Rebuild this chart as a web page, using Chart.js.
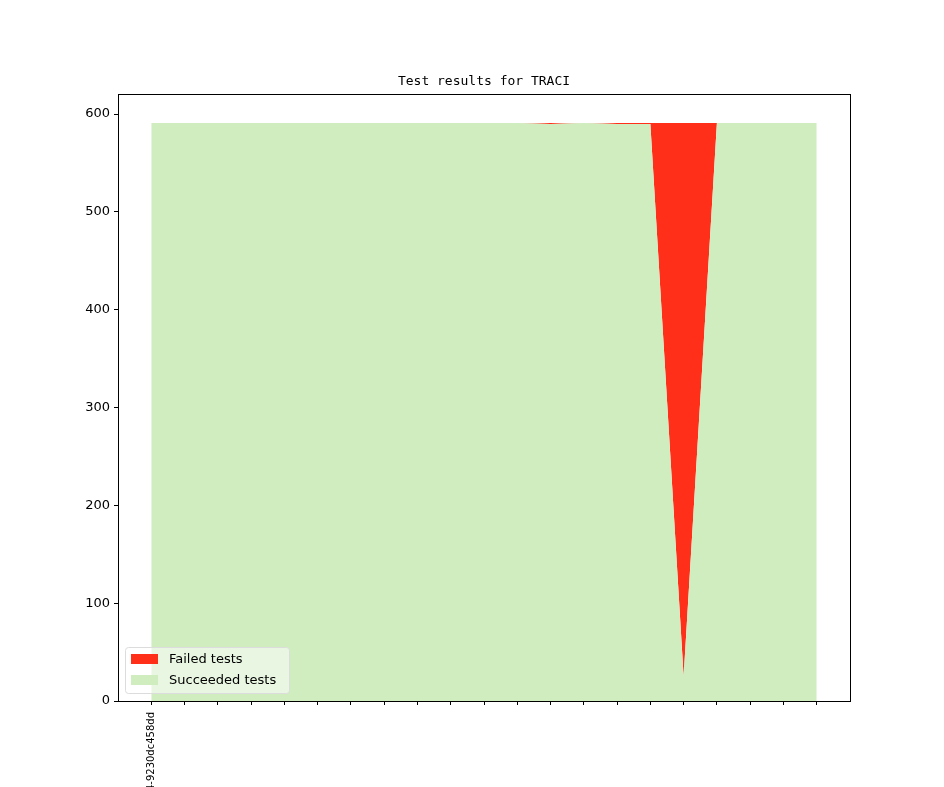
<!DOCTYPE html>
<html>
<head>
<meta charset="utf-8">
<script src="https://cdn.jsdelivr.net/npm/chart.js@4"></script>
<style>
  html, body { margin: 0; padding: 0; background: #fff; }
  #chart { display: block; }
</style>
</head>
<body>
<canvas id="chart" width="944" height="787"></canvas>
<script>
// commits along the x axis (only the first one carries a readable label)
const commits = [0, 1, 2, 3, 4, 5, 6, 7, 8, 9, 10, 11, 12, 13, 14, 15, 16, 17, 18, 19, 20];
const commitLabels = ["4-9230dc458dd"];
const succeeded = [591, 591, 591, 591, 591, 591, 591, 591, 591, 591, 591, 591, 590, 591, 590, 590, 25, 591, 591, 591, 591];
const failed    = [0, 0, 0, 0, 0, 0, 0, 0, 0, 0, 0, 0, 1, 0, 1, 1, 566, 0, 0, 0, 0];
const yTicks = [0, 100, 200, 300, 400, 500, 600];

const GREEN = "#cfedbf";
const RED = "#ff2f1a";

// title, axes frame and in-plot legend, matplotlib style
const extras = {
    id: "extras",
    afterDraw(chart) {
        const c = chart.ctx, a = chart.chartArea;
        c.save();
        c.fillStyle = "#000";
        c.font = "13px 'DejaVu Sans Mono'";
        c.textAlign = "center";
        c.textBaseline = "alphabetic";
        c.fillText("Test results for TRACI", (a.left + a.right) / 2, a.top - 9);

        c.strokeStyle = "#000";
        c.lineWidth = 1;
        c.strokeRect(Math.round(a.left) + 0.5, Math.round(a.top) + 0.5, Math.round(a.right - a.left), Math.round(a.bottom - a.top));

        // legend box
        const lx = 125, ly = 647, lw = 164, lh = 46;
        c.fillStyle = "rgba(255,255,255,0.55)";
        c.strokeStyle = "#dcdcdc";
        c.beginPath();
        c.roundRect(lx + 0.5, ly + 0.5, lw, lh, 3);
        c.fill();
        c.stroke();
        c.fillStyle = RED;
        c.fillRect(131, 654, 27, 10);
        c.fillStyle = GREEN;
        c.fillRect(131, 675, 27, 10);
        c.fillStyle = "#000";
        c.font = "13px 'DejaVu Sans'";
        c.textAlign = "left";
        c.textBaseline = "middle";
        c.fillText("Failed tests", 169, 660);
        c.fillText("Succeeded tests", 169, 681);
        c.restore();
    }
};

new Chart(document.getElementById("chart").getContext("2d"), {
    type: "line",
    data: {
        datasets: [{
            label: "Succeeded tests",
            data: commits.map((x, i) => ({ x: x, y: succeeded[i] })),
            backgroundColor: GREEN,
            borderWidth: 0,
            pointRadius: 0,
            fill: "origin",
            tension: 0
        }, {
            label: "Failed tests",
            data: commits.map((x, i) => ({ x: x, y: failed[i] })),
            backgroundColor: RED,
            borderWidth: 0,
            pointRadius: 0,
            fill: "-1",
            tension: 0
        }]
    },
    options: {
        responsive: false,
        animation: false,
        layout: { padding: { top: 94, right: 94, left: 0, bottom: 0 } },
        plugins: {
            legend: { display: false },
            tooltip: { enabled: false }
        },
        scales: {
            x: {
                type: "linear",
                min: -1,
                max: 21,
                afterBuildTicks: s => { s.ticks = commits.map(v => ({ value: v })); },
                afterFit: s => { s.height = 86; },
                grid: { drawOnChartArea: false, color: "#000", tickLength: 4, tickWidth: 1 },
                border: { display: false },
                ticks: {
                    autoSkip: false,
                    minRotation: 90,
                    maxRotation: 90,
                    padding: 7,
                    color: "#000",
                    font: { family: "DejaVu Sans", size: 10 },
                    callback: v => commitLabels[v] || ""
                }
            },
            y: {
                stacked: true,
                min: 0,
                max: 620.55,
                afterBuildTicks: s => { s.ticks = yTicks.map(v => ({ value: v })); },
                afterFit: s => { s.width = 118; },
                grid: { drawOnChartArea: false, color: "#000", tickLength: 4, tickWidth: 1 },
                border: { display: false },
                ticks: {
                    padding: 4,
                    color: "#000",
                    font: { family: "DejaVu Sans", size: 13 }
                }
            }
        }
    },
    plugins: [extras]
});
</script>
</body>
</html>
